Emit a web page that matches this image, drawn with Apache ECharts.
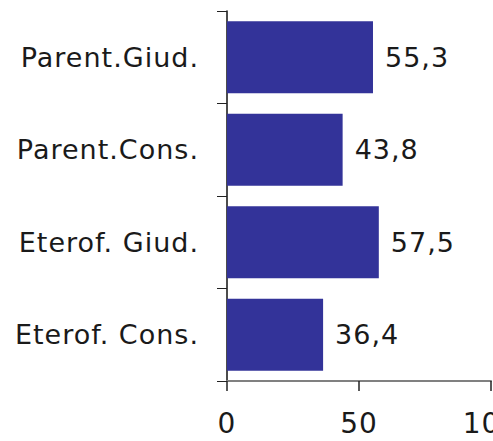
<!DOCTYPE html>
<html>
<head>
<meta charset="UTF-8">
<title>bar</title>
<script type="text/javascript" src="https://cdn.jsdelivr.net/npm/echarts@6/dist/echarts.min.js"></script>
<style>
  html, body { margin: 0; padding: 0; background: #fff; }
  #container { width: 493px; height: 441px; }
  #container text { letter-spacing: 1px; }
</style>
</head>
<body>
<div id="container"></div>
<script type="text/javascript">
    // dati del grafico
    var categories = ['Parent.Giud.', 'Parent.Cons.', 'Eterof. Giud.', 'Eterof. Cons.'];
    var values = [55.3, 43.8, 57.5, 36.4];
    var xTicks = [0, 50, 100];

    var font = 'DejaVu Sans';
    var myChart = echarts.init(document.getElementById('container'), null, { renderer: 'svg' });

    myChart.setOption({
        animation: false,
        grid: { left: 227, right: 2, top: 11, bottom: 60, containLabel: false, outerBoundsMode: 'none' },
        xAxis: {
            type: 'value',
            min: xTicks[0],
            max: xTicks[xTicks.length - 1],
            interval: xTicks[1] - xTicks[0],
            splitLine: { show: false },
            axisLine: { show: true, lineStyle: { color: '#808080', width: 2 } },
            axisTick: { show: true, length: 10, lineStyle: { color: '#222', width: 1.5 } },
            axisLabel: { margin: 28, color: '#1a1a1a', fontSize: 28, fontFamily: font, hideOverlap: false }
        },
        yAxis: {
            type: 'category',
            inverse: true,
            data: categories,
            axisLine: { show: true, lineStyle: { color: '#111', width: 1.5 } },
            axisTick: { show: true, length: 10, lineStyle: { color: '#222', width: 1 } },
            axisLabel: { margin: 28, color: '#1a1a1a', fontSize: 27, fontFamily: font }
        },
        series: [{
            type: 'bar',
            data: values,
            barCategoryGap: '22%',
            itemStyle: { color: '#333399' },
            label: {
                show: true,
                position: 'right',
                distance: 12,
                color: '#1a1a1a',
                fontSize: 27,
                fontFamily: font,
                formatter: function (p) {
                    return String(p.value).replace('.', ',');
                }
            }
        }]
    });
</script>
</body>
</html>
